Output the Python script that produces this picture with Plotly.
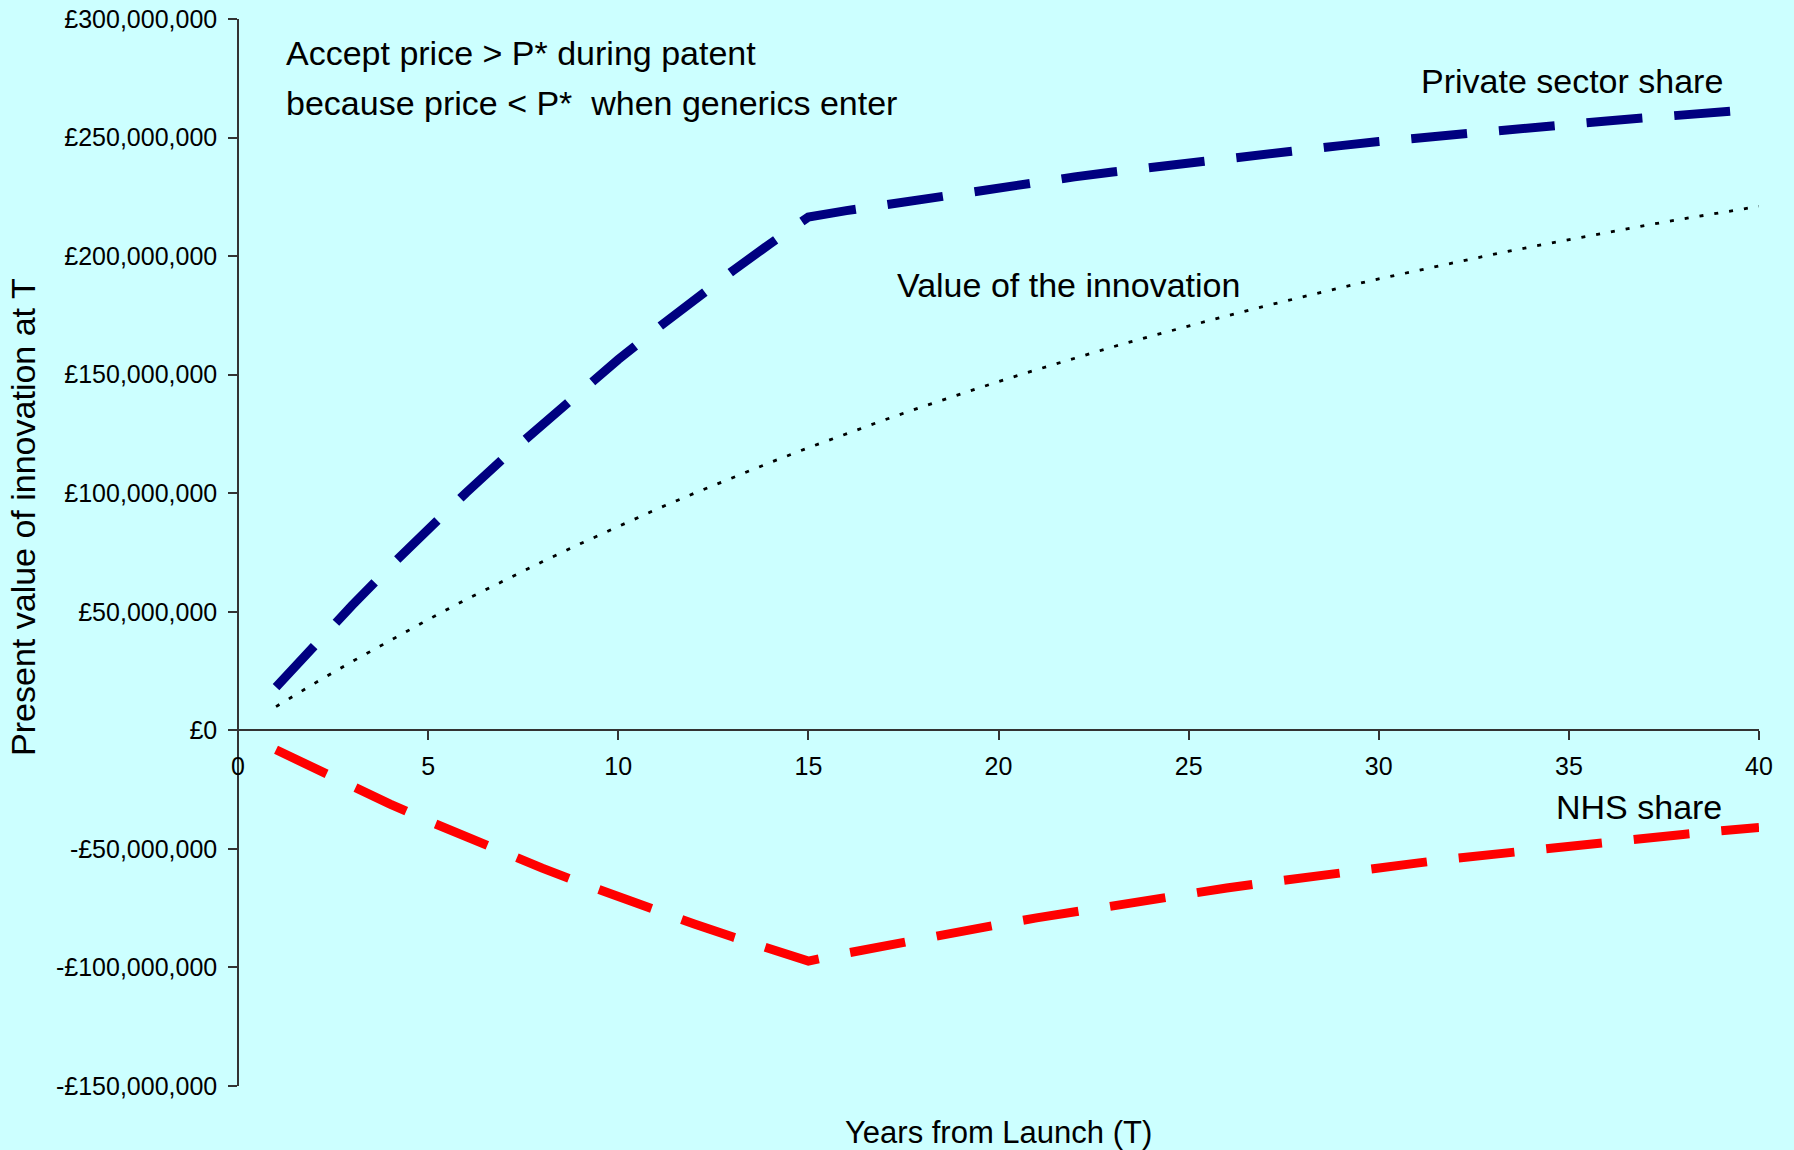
import plotly.graph_objects as go

# Years from launch (T)
years = list(range(1, 41))

# Present value at T, in £ millions
value_of_innovation = [
    10.0, 19.7, 29.0, 38.0, 46.7, 55.2, 63.3, 71.1, 78.7, 86.1,
    93.2, 100.0, 106.6, 113.0, 119.2, 125.2, 130.9, 136.5, 141.9, 147.1,
    152.1, 157.0, 161.7, 166.2, 170.6, 174.8, 178.9, 182.9, 186.7, 190.4,
    193.9, 197.4, 200.7, 203.9, 207.0, 210.0, 212.9, 215.7, 218.4, 221.0,
]
private_sector_share = [
    18.2, 35.7, 52.7, 69.1, 84.9, 100.2, 115.0, 129.2, 143.0, 156.4,
    169.2, 181.7, 193.7, 205.3, 216.5, 219.2, 221.7, 224.2, 226.6, 229.0,
    231.2, 233.4, 235.5, 237.5, 239.4, 241.3, 243.2, 244.9, 246.6, 248.3,
    249.9, 251.4, 252.9, 254.3, 255.7, 257.0, 258.3, 259.6, 260.8, 262.0,
]
nhs_share = [
    -8.2, -16.0, -23.7, -31.1, -38.2, -45.0, -51.7, -58.1, -64.3, -70.3,
    -76.0, -81.7, -87.1, -92.3, -97.3, -94.0, -90.8, -87.7, -84.7, -81.9,
    -79.1, -76.4, -73.8, -71.3, -68.8, -66.5, -64.3, -62.0, -59.9, -57.9,
    -56.0, -54.0, -52.2, -50.4, -48.7, -47.0, -45.4, -43.9, -42.4, -41.0,
]

# Axis ticks
x_ticks = [0, 5, 10, 15, 20, 25, 30, 35, 40]
y_ticks = [300, 250, 200, 150, 100, 50, 0, -50, -100, -150]
y_tick_labels = [
    "£300,000,000", "£250,000,000", "£200,000,000", "£150,000,000",
    "£100,000,000", "£50,000,000", "£0", "-£50,000,000",
    "-£100,000,000", "-£150,000,000",
]

BG = "#CCFFFF"
AXIS = "#333333"
FONT = "Liberation Sans, Arial, sans-serif"

fig = go.Figure()

fig.add_trace(go.Scatter(
    x=years, y=value_of_innovation, mode="lines",
    line=dict(color="black", width=2.8, dash="4px,11px"),
    hoverinfo="skip", showlegend=False,
))
fig.add_trace(go.Scatter(
    x=years, y=private_sector_share, mode="lines",
    line=dict(color="#000080", width=9, dash="56px,32px"),
    hoverinfo="skip", showlegend=False,
))
fig.add_trace(go.Scatter(
    x=years, y=nhs_share, mode="lines",
    line=dict(color="#FF0000", width=9, dash="56px,32px"),
    hoverinfo="skip", showlegend=False,
))

y_min, y_max = -150, 300

fig.update_layout(
    width=1794, height=1150,
    margin=dict(l=238, r=35, t=19, b=64, pad=0, autoexpand=False),
    paper_bgcolor=BG, plot_bgcolor=BG,
    font=dict(family=FONT, color="black", size=25),
    xaxis=dict(
        range=[0, 40], tickvals=x_ticks, ticktext=[str(v) for v in x_ticks],
        showgrid=False, zeroline=False, showline=True, automargin=False,
        linecolor=AXIS, linewidth=1.5,
        ticks="outside", ticklen=9, tickwidth=1.5, tickcolor=AXIS,
        tickfont=dict(size=25, family=FONT, color="black"),
        anchor="free", position=(0 - y_min) / (y_max - y_min),
        ticklabelstandoff=5,
    ),
    yaxis=dict(
        range=[y_min, y_max], tickvals=y_ticks, ticktext=y_tick_labels,
        showgrid=False, zeroline=False, showline=True, automargin=False,
        linecolor=AXIS, linewidth=1.5,
        ticks="outside", ticklen=9, tickwidth=1.5, tickcolor=AXIS,
        tickfont=dict(size=25, family=FONT, color="black"),
        anchor="free", position=0,
        ticklabelstandoff=6,
    ),
)

def note(text, x, y, size, xanchor="left", angle=0):
    fig.add_annotation(
        text=text, x=x, y=y, xref="paper", yref="paper",
        xanchor=xanchor, yanchor="middle", showarrow=False,
        textangle=angle, font=dict(size=size, family=FONT, color="black"),
    )

note("Accept price &gt; P* during patent", 0.0302, 0.9685, 34)
note("because price &lt; P*\u00a0 when generics enter", 0.0302, 0.9212, 34)
note("Private sector share", 0.7765, 0.9419, 34)
note("Value of the innovation", 0.432, 0.7506, 34)
note("NHS share", 0.8652, 0.2619, 34)
note("Years from Launch (T)", 0.5, -0.044, 31, xanchor="center")
note("Present value of innovation at T", -0.1414, 0.5333, 34,
     xanchor="center", angle=-90)

fig.write_html("out.html")
